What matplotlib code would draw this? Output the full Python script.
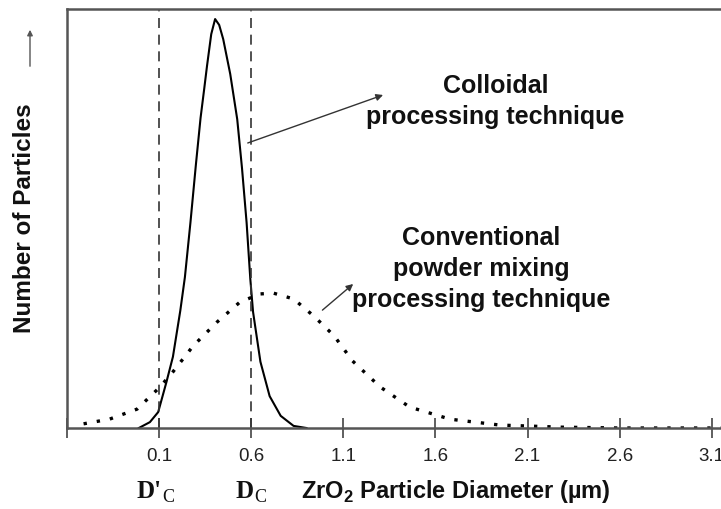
import numpy as np
import matplotlib
matplotlib.use("Agg")
import matplotlib.pyplot as plt

plt.rcParams['font.family'] = ['Liberation Sans', 'DejaVu Sans']
plt.rcParams['mathtext.fontset'] = 'custom'
plt.rcParams['mathtext.rm'] = 'Liberation Sans'
plt.rcParams['mathtext.bf'] = 'Liberation Sans:bold'

# colloidal processing (solid curve)
coll_x = [-0.01, 0.05, 0.095, 0.14, 0.175, 0.215, 0.24, 0.27, 0.30, 0.325, 0.345,
          0.36, 0.383, 0.404, 0.426, 0.448, 0.486, 0.524, 0.55, 0.575, 0.595, 0.61,
          0.65, 0.70, 0.76, 0.83, 0.90]
coll_y = [0.0, 0.014, 0.038, 0.11, 0.17, 0.28, 0.36, 0.49, 0.63, 0.74, 0.81,
          0.864, 0.94, 0.976, 0.962, 0.928, 0.845, 0.737, 0.62, 0.49, 0.356, 0.277,
          0.158, 0.076, 0.029, 0.005, 0.0]

# conventional powder mixing (dotted curve)
conv_x = [-0.31, -0.17, -0.02, 0.105, 0.175, 0.285, 0.415, 0.54, 0.65, 0.72, 0.83,
          0.94, 1.05, 1.15, 1.30, 1.46, 1.68, 1.95, 2.28, 2.6, 3.15]
conv_y = [0.01, 0.021, 0.045, 0.098, 0.134, 0.196, 0.253, 0.301, 0.32, 0.322, 0.308,
          0.267, 0.22, 0.16, 0.098, 0.05, 0.021, 0.007, 0.002, 0.0, 0.0]

ticks = [0.1, 0.6, 1.1, 1.6, 2.1, 2.6, 3.1]
tick_labels = ['0.1', '0.6', '1.1', '1.6', '2.1', '2.6', '3.1']
d_lines = [0.1, 0.6]
d_main = ["D'", "D"]

fig = plt.figure(figsize=(7.21, 5.10), dpi=100)
ax = fig.add_axes([67 / 721, 81 / 510, 1 - 67 / 721 + 0.002, 419 / 510])

ax.plot(coll_x, coll_y, color='black', lw=1.5)
ax.plot(conv_x, conv_y, color='black', lw=2.4, linestyle=(0, (1.0, 3.0)))
for d in d_lines:
    ax.axvline(d, color='#333333', lw=1.2, linestyle=(0, (6, 4)))

ax.set_xlim(-0.4, 3.158)
ax.set_ylim(0, 1.0)
ax.set_yticks([])
ax.set_xticks([-0.4] + ticks)
ax.set_xticklabels([''] + tick_labels, fontsize=13.5, color='#222222')
ax.tick_params(axis='x', direction='inout', length=14, width=1.2, color='#444444', pad=7)

for s in ['left', 'top', 'bottom']:
    ax.spines[s].set_color('#555555')
    ax.spines[s].set_linewidth(1.8)
ax.spines['right'].set_visible(False)

tfont = dict(fontsize=18, fontweight='bold', color='#111111', ha='center', va='center',
             linespacing=1.36)
ax.text(1.926, 0.782, 'Colloidal\nprocessing technique', **tfont)
ax.text(1.85, 0.382, 'Conventional\npowder mixing\nprocessing technique', **tfont)

ax.annotate('', xy=(1.33, 0.797), xytext=(0.567, 0.678),
            arrowprops=dict(arrowstyle='-|>', color='#333333', lw=1.0, mutation_scale=10))
ax.annotate('', xy=(1.165, 0.348), xytext=(0.975, 0.277),
            arrowprops=dict(arrowstyle='-|>', color='#333333', lw=1.0, mutation_scale=10))

# axis labels
fig.text(25 / 721, 1 - 218 / 510, 'Number of Particles', rotation=90, fontsize=17.5,
         fontweight='bold', color='#111111', ha='center', va='center')
fig.add_artist(matplotlib.patches.FancyArrowPatch(
    (30 / 721, 1 - 70 / 510), (30 / 721, 1 - 28 / 510), transform=fig.transFigure,
    arrowstyle='-|>', mutation_scale=8, color='#555555', lw=1.0))
fig.text(456 / 721, 1 - 492 / 510, r'ZrO$_\mathbf{2}$ Particle Diameter (µm)', fontsize=17,
         fontweight='bold', color='#111111', ha='center', va='center')
for d, lab in zip(d_lines, d_main):
    ax.annotate(lab, xy=(d, 0), xycoords=('data', 'axes fraction'), xytext=(2, -45),
                textcoords='offset points', fontsize=18, fontweight='bold',
                family='Liberation Serif', ha='right', va='center', color='#111111')
    ax.annotate('C', xy=(d, 0), xycoords=('data', 'axes fraction'), xytext=(2, -49),
                textcoords='offset points', fontsize=13, family='Liberation Serif',
                ha='left', va='center', color='#111111')

fig.savefig('out.png', dpi=100)
